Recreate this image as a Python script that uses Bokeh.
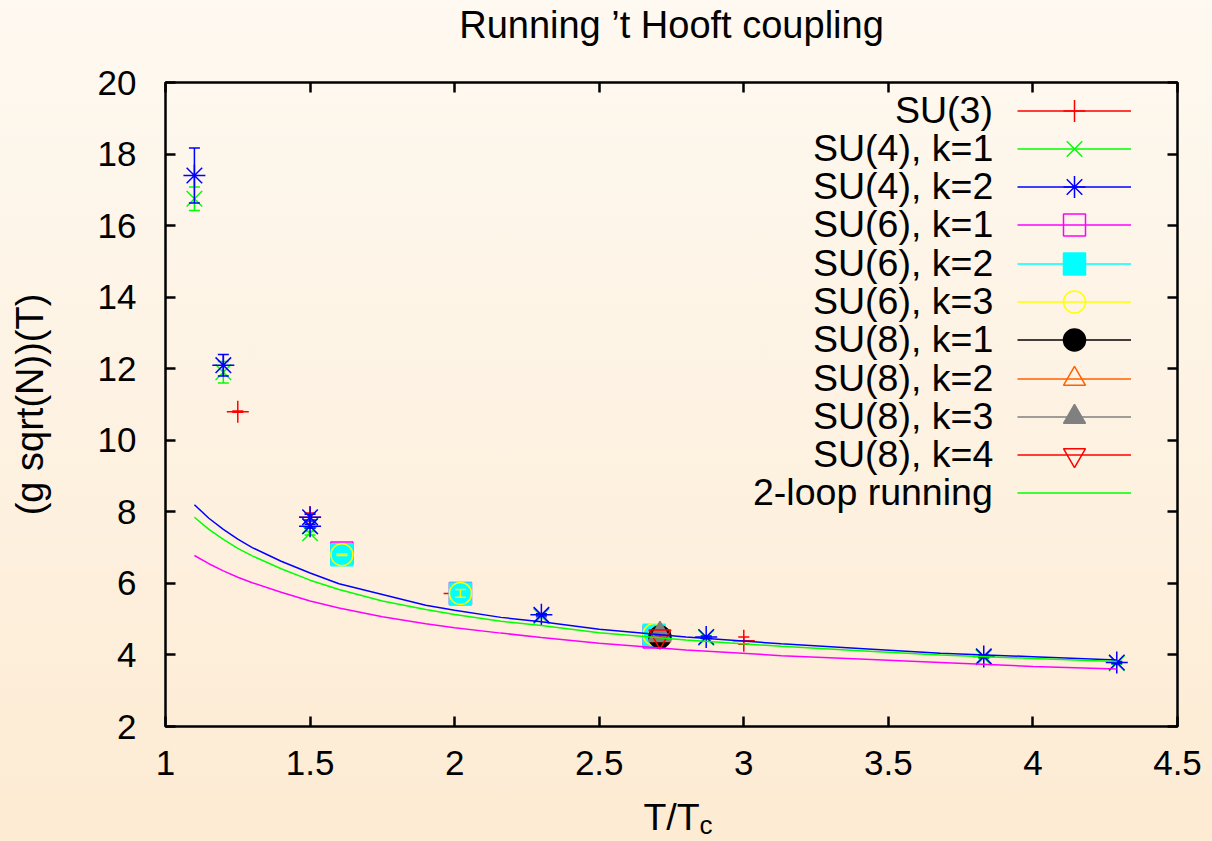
import numpy as np
from bokeh.plotting import figure
from bokeh.models import (Range1d, LinearAxis, FixedTicker, Legend, LegendItem,
                          Title, ColumnDataSource)
from bokeh.embed import file_html
from bokeh.resources import INLINE

FONT = "Liberation Sans"

# ---------------- data ----------------
x_ticks = [1, 1.5, 2, 2.5, 3, 3.5, 4, 4.5]
y_ticks = [2, 4, 6, 8, 10, 12, 14, 16, 18, 20]

su3_x = [1.25, 1.5, 2.0, 3.0]
su3_y = [10.8, 7.85, 5.72, 4.40]
su3_err = [0.02, 0.12, 0.03, 0.10]

su4k1_x = [1.1, 1.2, 1.5, 1.5, 2.3, 2.87, 3.83, 4.29]
su4k1_y = [16.75, 11.9, 7.6, 7.4, 5.08, 4.48, 3.93, 3.77]
su4k1_err = [0.33, 0.30, 0.05, 0.05, 0.03, 0.03, 0.03, 0.03]

su4k2_x = [1.1, 1.2, 1.5, 1.5, 2.3, 2.87, 3.83, 4.29]
su4k2_y = [17.4, 12.1, 7.85, 7.6, 5.12, 4.50, 3.96, 3.79]
su4k2_err = [0.77, 0.30, 0.08, 0.05, 0.03, 0.03, 0.03, 0.03]

su6k1_x = [1.61, 2.02, 2.69]
su6k1_y = [6.85, 5.72, 4.50]
su6k1_err = [0.03, 0.05, 0.03]

su6k2_x = [1.61, 2.02, 2.69]
su6k2_y = [6.80, 5.70, 4.55]
su6k2_err = [0.03, 0.05, 0.03]

su6k3_x = [1.61, 2.02, 2.69]
su6k3_y = [6.80, 5.72, 4.57]
su6k3_err = [0.02, 0.11, 0.05]

su8k1_x = [2.71]
su8k1_y = [4.50]
su8k1_err = [0.03]

su8k2_x = [2.71]
su8k2_y = [4.55]
su8k2_err = [0.03]

su8k3_x = [2.71]
su8k3_y = [4.58]
su8k3_err = [0.03]

su8k4_x = [2.71]
su8k4_y = [4.52]
su8k4_err = [0.03]

loop_x = [1.1, 1.15, 1.2, 1.25, 1.3, 1.4, 1.5, 1.6, 1.75, 1.9, 2.0, 2.16, 2.3,
          2.5, 2.8, 3.13, 3.4, 3.68, 4.0, 4.29]
loop_blue = [8.20, 7.82, 7.51, 7.24, 7.00, 6.62, 6.29, 5.99, 5.69, 5.39, 5.25,
             5.05, 4.93, 4.72, 4.50, 4.31, 4.18, 4.05, 3.95, 3.86]
loop_green = [7.85, 7.51, 7.23, 6.98, 6.77, 6.41, 6.09, 5.83, 5.51, 5.27, 5.13,
              4.94, 4.82, 4.62, 4.42, 4.24, 4.12, 4.00, 3.90, 3.82]
loop_magenta = [6.78, 6.55, 6.35, 6.17, 6.02, 5.75, 5.51, 5.31, 5.07, 4.87, 4.76,
                4.61, 4.49, 4.33, 4.14, 3.98, 3.89, 3.79, 3.68, 3.61]

labels = ["SU(3)", "SU(4), k=1", "SU(4), k=2", "SU(6), k=1", "SU(6), k=2",
          "SU(6), k=3", "SU(8), k=1", "SU(8), k=2", "SU(8), k=3", "SU(8), k=4",
          "2-loop running"]

title_text = "Running \u2019t Hooft coupling"
x_label = "T/T"
x_label_sub = "c"
y_label = "(g sqrt(N))(T)"

# ---------------- figure ----------------
p = figure(width=1212, height=841, output_backend="svg", toolbar_location=None,
           x_range=Range1d(1, 4.5), y_range=Range1d(2, 20),
           min_border_left=165, min_border_right=35, min_border_top=82,
           min_border_bottom=115)
p.styles = {"background": "linear-gradient(180deg, #fef9f1 0%, #fdebd3 100%)"}
p.border_fill_color = None
p.background_fill_color = None
p.outline_line_color = "black"
p.outline_line_width = 2.5
p.xgrid.visible = False
p.ygrid.visible = False

for ax, ticks in ((p.xaxis[0], x_ticks), (p.yaxis[0], y_ticks)):
    ax.ticker = FixedTicker(ticks=ticks)
    ax.axis_line_color = None
    ax.major_tick_in = 10
    ax.major_tick_out = 0
    ax.major_tick_line_width = 2.5
    ax.minor_tick_line_color = None
    ax.major_label_text_font = FONT
    ax.major_label_text_font_size = "35px"
    ax.major_label_text_color = "black"
    ax.axis_label_text_font = FONT
    ax.axis_label_text_font_style = "normal"
    ax.axis_label_text_color = "black"

p.xaxis[0].major_label_standoff = 24
p.xaxis[0].axis_label = x_label
p.xaxis[0].axis_label_text_font_size = "37.5px"
p.xaxis[0].axis_label_standoff = 18

p.yaxis[0].major_label_standoff = 29
p.yaxis[0].axis_label = y_label
p.yaxis[0].axis_label_text_font_size = "38px"
p.yaxis[0].axis_label_standoff = 44

for loc, ticks in (("right", y_ticks), ("above", x_ticks)):
    ax = LinearAxis(ticker=FixedTicker(ticks=ticks), axis_line_color=None,
                    major_tick_in=10, major_tick_out=0, major_tick_line_width=2.5,
                    minor_tick_line_color=None, major_label_standoff=0,
                    major_label_overrides={t: "" for t in ticks})
    if loc == "above":
        ax.axis_label = title_text
        ax.axis_label_text_font = FONT
        ax.axis_label_text_font_size = "38px"
        ax.axis_label_text_font_style = "normal"
        ax.axis_label_text_color = "black"
        ax.axis_label_standoff = 37
    p.add_layout(ax, loc)

# subscript "c" of the x-axis label
p.add_layout(Title(text=x_label_sub, align="left", offset=534, text_font=FONT,
                   text_font_size="26px", text_font_style="normal",
                   text_color="black", vertical_align="top", standoff=-61), "below")


def add_series(x, y, err, color, marker, filled):
    x = np.asarray(x, float)
    y = np.asarray(y, float)
    e = np.asarray(err, float)
    src = ColumnDataSource(dict(x=x, y=y, lo=y - e, hi=y + e))
    seg = p.segment(x0="x", y0="lo", x1="x", y1="hi", source=src,
                    line_color=color, line_width=1.5)
    for col in ("lo", "hi"):
        p.scatter(x="x", y=col, source=src, marker="dash", size=11,
                  line_color=color, line_width=1.5)
    mk = p.scatter(x="x", y="y", source=src, marker=marker, size=22,
                   line_color=color, line_width=1.5,
                   fill_color=color if filled else None)
    return [seg, mk]


series = [
    (su3_x, su3_y, su3_err, "#ff0000", "cross", False),
    (su4k1_x, su4k1_y, su4k1_err, "#00ff00", "x", False),
    (su4k2_x, su4k2_y, su4k2_err, "#0000ff", "asterisk", False),
    (su6k1_x, su6k1_y, su6k1_err, "#ff00ff", "square", False),
    (su6k2_x, su6k2_y, su6k2_err, "#00ffff", "square", True),
    (su6k3_x, su6k3_y, su6k3_err, "#ffff00", "circle", False),
    (su8k1_x, su8k1_y, su8k1_err, "#000000", "circle", True),
    (su8k2_x, su8k2_y, su8k2_err, "#ff6000", "triangle", False),
    (su8k3_x, su8k3_y, su8k3_err, "#808080", "triangle", True),
    (su8k4_x, su8k4_y, su8k4_err, "#ff0000", "inverted_triangle", False),
]

rend_lists = [add_series(*s) for s in series]

p.line(loop_x, loop_blue, line_color="#0000ff", line_width=1.5)
green_line = p.line(loop_x, loop_green, line_color="#00ff00", line_width=1.5)
p.line(loop_x, loop_magenta, line_color="#ff00ff", line_width=1.5)
rend_lists.append([green_line])

# ---------------- legend (gnuplot style: text right-aligned, sample on right) ----
ADV = {" ": 278, "(": 333, ")": 333, ",": 278, "-": 333, "=": 584, "S": 667,
       "U": 722, "k": 500, "l": 222, "o": 556, "p": 556, "r": 333, "u": 556,
       "n": 556, "i": 222, "g": 556}
LEG_PX = 37.5
TEXT_RIGHT = 993 - 165      # right edge of legend texts (frame px)
SAMPLE_LEFT = 1017 - 165    # left edge of legend samples (frame px)
ROW0, ROW_STEP, ROW_H = 726 - 110, 38.3, 55

common = dict(background_fill_alpha=0, border_line_color=None, padding=0,
              margin=0, spacing=0, glyph_height=ROW_H, label_height=ROW_H,
              label_standoff=0, label_text_font=FONT,
              label_text_font_size=f"{LEG_PX}px", label_text_color="black")
for i, (lab, rends) in enumerate(zip(labels, rend_lists)):
    w = sum(ADV.get(ch, 556) for ch in lab) / 1000 * LEG_PX
    ybot = int(round(ROW0 - i * ROW_STEP - ROW_H / 2))
    p.add_layout(Legend(items=[LegendItem(label=lab, renderers=rends)],
                        location=(int(round(TEXT_RIGHT - w)), ybot),
                        glyph_width=0, **common))
    p.add_layout(Legend(items=[LegendItem(label=" ", renderers=rends)],
                        location=(SAMPLE_LEFT, ybot), glyph_width=114, **common))

open("out.html", "w").write(file_html(p, INLINE))
